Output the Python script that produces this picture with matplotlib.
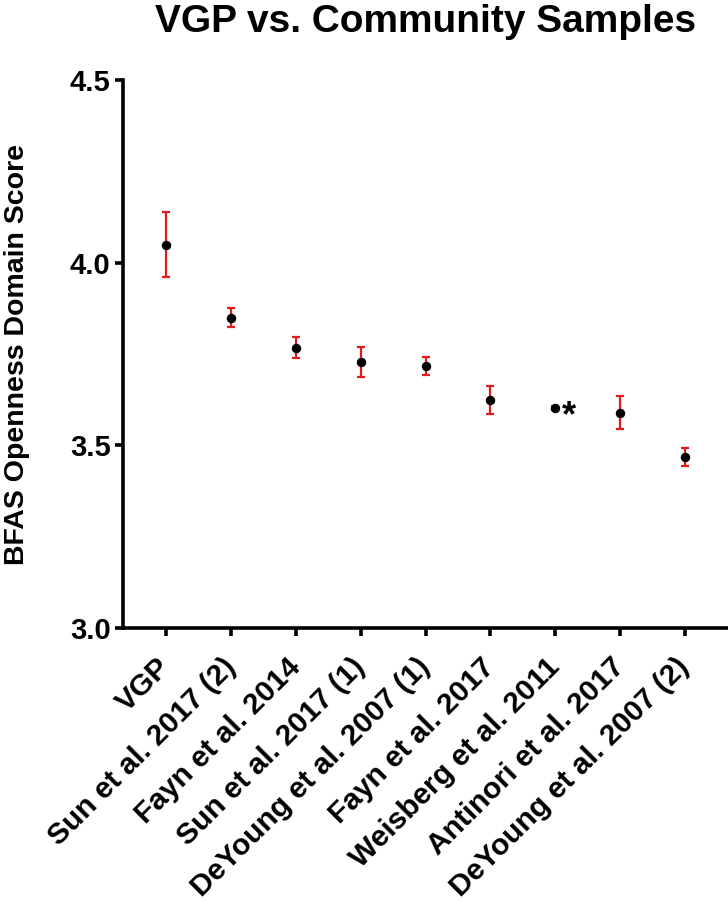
import numpy as np
import matplotlib.pyplot as plt

plt.rcParams['font.family'] = ['Liberation Sans', 'DejaVu Sans']
plt.rcParams['font.weight'] = 'bold'

# Samples, means and error half-widths
samples = ['VGP', 'Sun et al. 2017 (2)', 'Fayn et al. 2014', 'Sun et al. 2017 (1)',
           'DeYoung et al. 2007 (1)', 'Fayn et al. 2017', 'Weisberg et al. 2011',
           'Antinori et al. 2017', 'DeYoung et al. 2007 (2)']
means = [4.05, 3.85, 3.768, 3.728, 3.718, 3.625, 3.602, 3.589, 3.468]
errors = [0.09, 0.027, 0.03, 0.041, 0.024, 0.038, 0.005, 0.045, 0.024]
marked = 'Weisberg et al. 2011'

fig = plt.figure(figsize=(7.28, 9.01), dpi=100)
ax = fig.add_axes([0.169, 0.303, 0.831, 0.608])

x = np.arange(len(samples))
ax.errorbar(x, means, yerr=errors, fmt='none', ecolor='#e31a1c', elinewidth=1.6,
            capsize=3, capthick=1.6, zorder=2)
ax.plot(x, means, 'o', color='black', markersize=5.8, zorder=3)

# significance marker
i = samples.index(marked)
ax.annotate('*', (x[i], means[i]), xytext=(5, -6), textcoords='offset points',
            fontsize=26, fontweight='bold', va='center', ha='left')

ax.set_xlim(-0.667, len(samples) - 0.333)
ax.set_ylim(3.0, 4.5)
ax.set_yticks([3.0, 3.5, 4.0, 4.5])
ax.set_yticklabels(['3.0', '3.5', '4.0', '4.5'], fontsize=21, fontweight='bold')
ax.set_xticks(x)
ax.set_xticklabels(samples, rotation=45, ha='right', va='center', rotation_mode='anchor',
                   fontsize=21.5, fontweight='bold')

for side in ['top', 'right']:
    ax.spines[side].set_visible(False)
for side in ['left', 'bottom']:
    ax.spines[side].set_linewidth(2.6)
ax.tick_params(width=2.6, length=6, direction='out', pad=3)
ax.tick_params(axis='x', pad=19)

ax.set_ylabel('BFAS Openness Domain Score', fontsize=20.5, fontweight='bold', labelpad=29)
fig.text(0.585, 0.976, 'VGP vs. Community Samples', fontsize=28, fontweight='bold',
         ha='center', va='center')

fig.savefig('out.png', dpi=100)
